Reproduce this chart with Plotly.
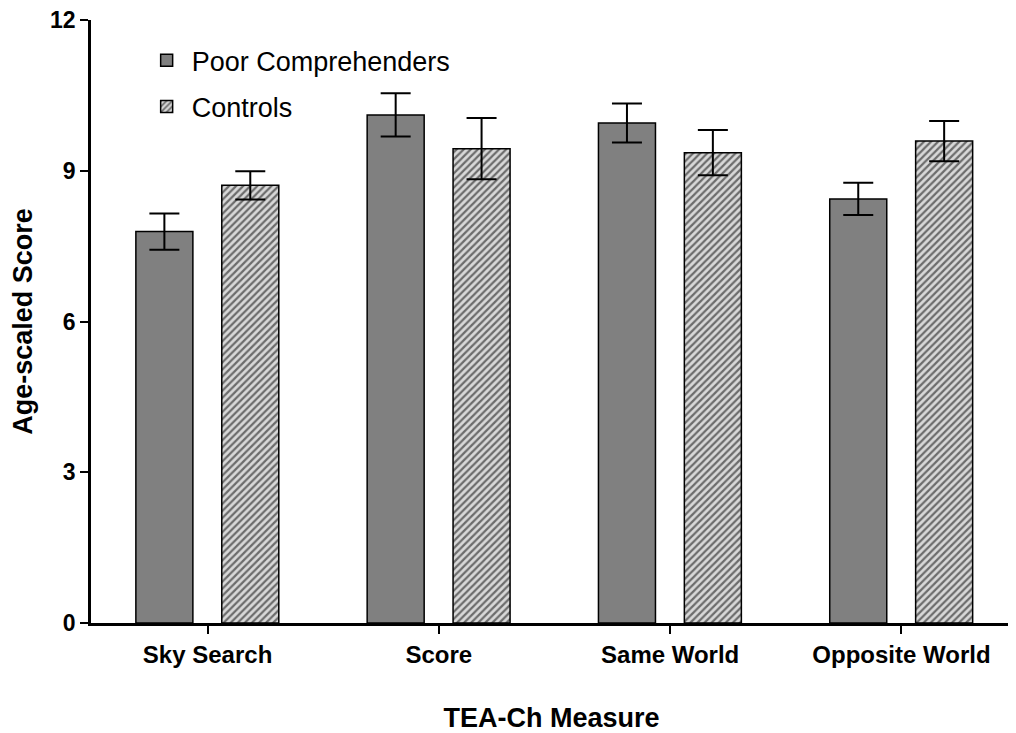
import plotly.graph_objects as go

categories = ["Sky Search", "Score", "Same World", "Opposite World"]
poor_means = [7.79, 10.11, 9.95, 8.44]
poor_err = [0.36, 0.43, 0.39, 0.32]
ctrl_means = [8.71, 9.44, 9.36, 9.59]
ctrl_err = [0.28, 0.61, 0.45, 0.40]
y_ticks = [0, 3, 6, 9, 12]

xpos = list(range(len(categories)))
FONT = "Liberation Sans, Arial, sans-serif"
BAR_W = 0.2465

fig = go.Figure()
fig.add_trace(go.Bar(
    x=xpos, y=poor_means, name="Poor Comprehenders", legendgroup="a",
    width=BAR_W, offset=-0.310,
    marker=dict(color="#808080", line=dict(color="black", width=1.5)),
    error_y=dict(type="data", array=poor_err, color="black", thickness=2, width=15),
))
fig.add_trace(go.Bar(
    x=xpos, y=ctrl_means, name="Controls", legendgroup="b",
    width=BAR_W, offset=0.0614,
    marker=dict(color="#d8d8d8", line=dict(color="black", width=1.5),
                pattern=dict(shape="/", fgcolor="black", bgcolor="#d8d8d8",
                             size=5, solidity=0.45)),
    error_y=dict(type="data", array=ctrl_err, color="black", thickness=2, width=15),
))

fig.update_layout(
    width=1008, height=725,
    margin=dict(l=83, r=4, t=12, b=110),
    paper_bgcolor="white", plot_bgcolor="white",
    barmode="overlay",
    font=dict(family=FONT, color="black"),
    showlegend=True,
    legend=dict(x=0.055, y=0.973, xanchor="left", yanchor="top",
                font=dict(size=27, family=FONT), bgcolor="rgba(0,0,0,0)",
                traceorder="grouped", tracegroupgap=8, itemwidth=40),
)
fig.update_xaxes(
    range=[-0.504, 3.478], tickmode="array", tickvals=xpos, ticktext=categories,
    showline=True, linecolor="black", linewidth=2.5,
    ticks="outside", ticklen=8, tickwidth=2, tickcolor="black",
    tickfont=dict(size=24, family=FONT, weight="bold"),
    showgrid=False, zeroline=False, automargin=False,
    title=dict(text="<b>TEA-Ch Measure</b>", font=dict(size=27, family=FONT), standoff=48),
)
fig.update_yaxes(
    range=[0, 12], tickmode="array", tickvals=y_ticks,
    showline=True, linecolor="black", linewidth=2.5,
    ticks="outside", ticklen=8, tickwidth=2, tickcolor="black",
    tickfont=dict(size=23, family=FONT, weight="bold"),
    ticklabeloverflow="allow",
    showgrid=False, zeroline=False, automargin=False,
    title=dict(text="<b>Age-scaled Score</b>", font=dict(size=27, family=FONT), standoff=23),
)

fig.write_html("out.html")
